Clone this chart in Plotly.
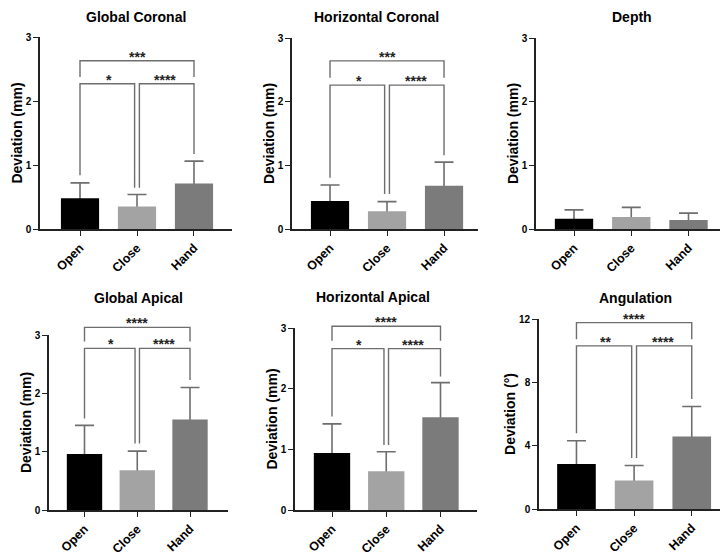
import plotly.graph_objects as go

W, H = 720, 556

# ---------------- data ----------------
categories = ["Open", "Close", "Hand"]
bar_colors = ["#000000", "#a3a3a3", "#7b7b7b"]

panel_titles = ["Global Coronal", "Horizontal Coronal", "Depth",
                "Global Apical", "Horizontal Apical", "Angulation"]
y_titles = ["Deviation (mm)"] * 5 + ["Deviation (°)"]

global_coronal_mean = [0.48, 0.35, 0.71]
global_coronal_sd = [0.24, 0.19, 0.35]
horizontal_coronal_mean = [0.44, 0.28, 0.68]
horizontal_coronal_sd = [0.25, 0.15, 0.37]
depth_mean = [0.16, 0.19, 0.14]
depth_sd = [0.14, 0.15, 0.11]
global_apical_mean = [0.96, 0.68, 1.55]
global_apical_sd = [0.49, 0.33, 0.55]
horizontal_apical_mean = [0.94, 0.64, 1.53]
horizontal_apical_sd = [0.48, 0.32, 0.57]
angulation_mean = [2.84, 1.80, 4.58]
angulation_sd = [1.47, 0.95, 1.89]

y_max = [3, 3, 3, 3, 3, 12]
y_tick_step = [1, 1, 1, 1, 1, 4]

# significance brackets: [top level, top leg end, lower level], leg ends (Open, Close, Hand), labels (top, left, right)
global_coronal_sig = [2.63, 2.375, 2.27]
global_coronal_legs = [0.84, 0.645, 1.17]
global_coronal_stars = ["***", "*", "****"]
horizontal_coronal_sig = [2.64, 2.375, 2.26]
horizontal_coronal_legs = [0.805, 0.55, 1.16]
horizontal_coronal_stars = ["***", "*", "****"]
global_apical_sig = [3.13, 2.89, 2.77]
global_apical_legs = [1.57, 1.14, 2.23]
global_apical_stars = ["****", "*", "****"]
horizontal_apical_sig = [3.03, 2.79, 2.66]
horizontal_apical_legs = [1.54, 1.07, 2.20]
horizontal_apical_stars = ["****", "*", "****"]
angulation_sig = [11.77, 10.72, 10.3]
angulation_legs = [4.79, 3.22, 6.94]
angulation_stars = ["****", "**", "****"]

means = [global_coronal_mean, horizontal_coronal_mean, depth_mean,
         global_apical_mean, horizontal_apical_mean, angulation_mean]
sds = [global_coronal_sd, horizontal_coronal_sd, depth_sd,
       global_apical_sd, horizontal_apical_sd, angulation_sd]
sigs = [(global_coronal_sig, global_coronal_legs, global_coronal_stars),
        (horizontal_coronal_sig, horizontal_coronal_legs, horizontal_coronal_stars),
        None,
        (global_apical_sig, global_apical_legs, global_apical_stars),
        (horizontal_apical_sig, horizontal_apical_legs, horizontal_apical_stars),
        (angulation_sig, angulation_legs, angulation_stars)]

# ---------------- layout geometry (pixels) ----------------
# x0, x1, y_top, y_bottom, x range min, x range max
geom = [(40, 232, 37, 229, -0.702, 2.667),
        (292, 478, 38, 229, -0.667, 2.596),
        (536, 720, 38, 229, -0.664, 2.55),
        (49, 228, 335, 510, -0.673, 2.72),
        (295, 477, 328, 510, -0.682, 2.673),
        (539, 720, 319, 509, -0.65, 2.49)]
title_pos = [(136, 17), (376, 17), (632, 17), (138, 298), (373, 297), (635, 298)]
bracket_top_px = [6, 6, 6, 286, 286, 286]

FONT = "Liberation Sans, Arial, sans-serif"
AX = "#222222"
GRAY = "#6e6e6e"
d_off = 0.042
BAR_W = 0.67

fig = go.Figure()
layout = dict(template="none", width=W, height=H, autosize=False,
              margin=dict(l=0, r=0, t=0, b=0, pad=0),
              paper_bgcolor="white", plot_bgcolor="rgba(0,0,0,0)",
              showlegend=False, barmode="overlay", annotations=[])

xpos = list(range(len(categories)))

for i in range(6):
    n = i + 1
    sfx = "" if n == 1 else str(n)
    x0, x1, yt, yb, xr0, xr1 = geom[i]
    xd = [x0 / W, min(1.0, x1 / W)]
    yd = [1 - yb / H, 1 - yt / H]

    # error bars (carried by an invisible bar trace, lower half hidden by the visible bars)
    fig.add_trace(go.Bar(
        x=xpos, y=means[i], width=BAR_W,
        marker=dict(color="rgba(0,0,0,0)", line=dict(width=0)),
        error_y=dict(type="data", symmetric=True, array=sds[i],
                     color=GRAY, thickness=1.6, width=9.5),
        xaxis="x" + sfx, yaxis="y" + sfx, hoverinfo="skip"))
    fig.add_trace(go.Bar(
        x=xpos, y=means[i], width=BAR_W,
        marker=dict(color=bar_colors, line=dict(width=0)),
        xaxis="x" + sfx, yaxis="y" + sfx, hoverinfo="skip"))

    layout["xaxis" + sfx] = dict(
        domain=xd, anchor="y" + sfx, range=[xr0, xr1], automargin=False,
        tickmode="array", tickvals=xpos, ticktext=categories,
        tickangle=-45, ticks="outside", ticklen=5, tickwidth=1.3, tickcolor=AX,
        showline=True, linecolor=AX, linewidth=1.6, showgrid=False, zeroline=False,
        tickfont=dict(family=FONT, size=12.5, color="#000", weight="bold"))
    layout["yaxis" + sfx] = dict(
        domain=yd, anchor="x" + sfx, range=[0, y_max[i]], automargin=False,
        tickmode="linear", tick0=0, dtick=y_tick_step[i],
        ticks="outside", ticklen=5, tickwidth=1.3, tickcolor=AX,
        showline=True, linecolor=AX, linewidth=1.6, showgrid=False, zeroline=False,
        tickfont=dict(family=FONT, size=10, color="#000", weight="bold"),
        title=dict(text=y_titles[i], standoff=0,
                   font=dict(family=FONT, size=14, color="#000", weight="bold")))

    tx, ty = title_pos[i]
    layout["annotations"].append(dict(
        text=panel_titles[i], xref="paper", yref="paper", x=tx / W, y=1 - ty / H,
        xanchor="center", yanchor="middle", showarrow=False,
        font=dict(family=FONT, size=14, color="#000", weight="bold")))

    if sigs[i] is not None:
        lv, legs, stars = sigs[i]
        top_lv, top_leg, low_lv = lv
        bn = n + 6
        bsfx = str(bn)
        btop = bracket_top_px[i]
        ext = y_max[i] * (yb - btop) / (yb - yt)
        layout["yaxis" + bsfx] = dict(domain=[1 - yb / H, 1 - btop / H], anchor="x" + sfx,
                                      range=[0, ext], visible=False, fixedrange=True,
                                      automargin=False, showgrid=False, zeroline=False)
        bx = [xpos[0], xpos[0], xpos[2], xpos[2], None,
              xpos[0], xpos[0], xpos[1] - d_off, xpos[1] - d_off, None,
              xpos[1] + d_off, xpos[1] + d_off, xpos[2], xpos[2]]
        by = [top_leg, top_lv, top_lv, top_leg, None,
              legs[0], low_lv, low_lv, legs[1], None,
              legs[1], low_lv, low_lv, legs[2]]
        fig.add_trace(go.Scatter(x=bx, y=by, mode="lines",
                                 line=dict(color=GRAY, width=1.4),
                                 xaxis="x" + sfx, yaxis="y" + bsfx, hoverinfo="skip",
                                 cliponaxis=False))
        for sx, sy, st in [((xpos[0] + xpos[2]) / 2, top_lv, stars[0]),
                           ((xpos[0] + xpos[1]) / 2, low_lv, stars[1]),
                           ((xpos[1] + xpos[2]) / 2, low_lv, stars[2])]:
            layout["annotations"].append(dict(
                text=st, xref="x" + sfx, yref="y" + bsfx, x=sx, y=sy,
                xanchor="center", yanchor="middle", yshift=4, showarrow=False,
                font=dict(family=FONT, size=14, color="#222", weight="bold")))

fig.update_layout(**layout)
fig.write_html("out.html", config={"displayModeBar": False},
               post_script="document.body.style.margin='0px';document.body.style.overflow='hidden';")
